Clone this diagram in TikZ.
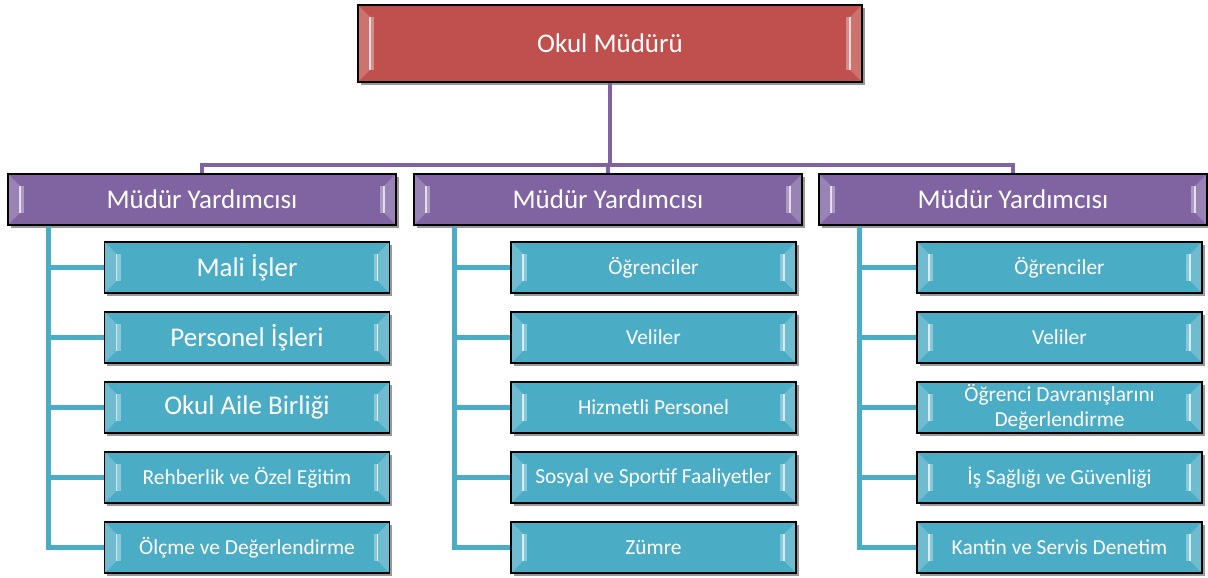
\documentclass[tikz,border=0pt]{standalone}
\usepackage{fontspec}
\setmainfont{Carlito}
\usetikzlibrary{shadows,calc}
\definecolor{cred}{HTML}{C0504D}
\definecolor{cpur}{HTML}{8064A2}
\definecolor{cteal}{HTML}{4BACC6}
\tikzset{
  bevel/.style={path picture={
    \coordinate (pa) at (path picture bounding box.north west);
    \coordinate (pb) at (path picture bounding box.south east);
    \fill[white,opacity=.2] (pa) -- ($(pa)+(12,-12)$) -- ($(pa|-pb)+(12,12)$) -- (pa|-pb) -- cycle;
    \fill[white,opacity=.2] (pb|-pa) -- ($(pb|-pa)+(-12,-12)$) -- ($(pb)+(-12,12)$) -- (pb) -- cycle;
    \draw[white,opacity=.35,line width=4pt] ($(pa)+(14,-12)$) -- ($(pa|-pb)+(14,12)$);
    \draw[white,opacity=.35,line width=4pt] ($(pb|-pa)+(-14,-12)$) -- ($(pb)+(-14,12)$);
    \draw[white,opacity=.7,line width=1.4pt] ($(pa)+(12,-12)$) -- ($(pa|-pb)+(12,12)$);
    \draw[white,opacity=.7,line width=1.4pt] ($(pb|-pa)+(-12,-12)$) -- ($(pb)+(-12,12)$);
  }},
  box/.style={draw=black, line width=1.3pt, text=white, inner sep=0pt, align=center,
    drop shadow={shadow xshift=2.5pt, shadow yshift=-3pt, opacity=.4, fill=black}, bevel},
  topbox/.style={box, fill=cred, minimum width=504pt, minimum height=77pt, font=\fontsize{27}{31}\selectfont},
  vpbox/.style={box, fill=cpur, minimum width=388pt, minimum height=51pt, font=\fontsize{27}{31}\selectfont},
  subbox/.style={box, fill=cteal, minimum width=285pt, minimum height=51pt, font=\fontsize{21.4}{24.5}\selectfont},
  bigsub/.style={subbox, font=\fontsize{27}{31}\selectfont},
  pline/.style={draw=cpur, line width=4.5pt},
  tline/.style={draw=cteal, line width=5.5pt},
}
\begin{document}
\begin{tikzpicture}[x=1pt,y=1pt]
\useasboundingbox (0,0) rectangle (1208,578);
\node[topbox] (top) at (610,534.5) {Okul Müdürü};
\node[vpbox] (vp1) at (202,378.5) {Müdür Yardımcısı};
\node[vpbox] (vp2) at (608,378.5) {Müdür Yardımcısı};
\node[vpbox] (vp3) at (1013,378.5) {Müdür Yardımcısı};

\node[bigsub] (s11) at (247,310.5) {Mali İşler};
\node[bigsub] (s12) at (247,240.5) {Personel İşleri};
\node[bigsub] (s13) at (247,170.5) {Okul Aile Birliği};
\node[subbox] (s14) at (247,100.5) {Rehberlik ve Özel Eğitim};
\node[subbox] (s15) at (247,30.5) {Ölçme ve Değerlendirme};

\node[subbox] (s21) at (653.5,310.5) {Öğrenciler};
\node[subbox] (s22) at (653.5,240.5) {Veliler};
\node[subbox] (s23) at (653.5,170.5) {Hizmetli Personel};
\node[subbox] (s24) at (653.5,100.5) {Sosyal ve Sportif Faaliyetler};
\node[subbox] (s25) at (653.5,30.5) {Zümre};

\node[subbox] (s31) at (1059.5,310.5) {Öğrenciler};
\node[subbox] (s32) at (1059.5,240.5) {Veliler};
\node[subbox] (s33) at (1059.5,170.5) {Öğrenci Davranışlarını\\Değerlendirme};
\node[subbox] (s34) at (1059.5,100.5) {İş Sağlığı ve Güvenliği};
\node[subbox] (s35) at (1059.5,30.5) {Kantin ve Servis Denetim};

\coordinate (bus) at (610,413);
\draw[pline] (top.south) -- (bus);
\draw[pline] (vp1.north) |- (bus) -| (vp3.north);
\draw[pline] (vp2.north) -- (vp2.north |- bus);

\foreach \c in {1,2,3}{
  \coordinate (t\c) at ([xshift=41pt]vp\c.south west);
  \draw[tline] (t\c) |- (s\c5.west);
  \foreach \r in {1,...,4}{
    \draw[tline] (s\c\r.west) -- (s\c\r.west -| t\c);
  }
}
\end{tikzpicture}
\end{document}
